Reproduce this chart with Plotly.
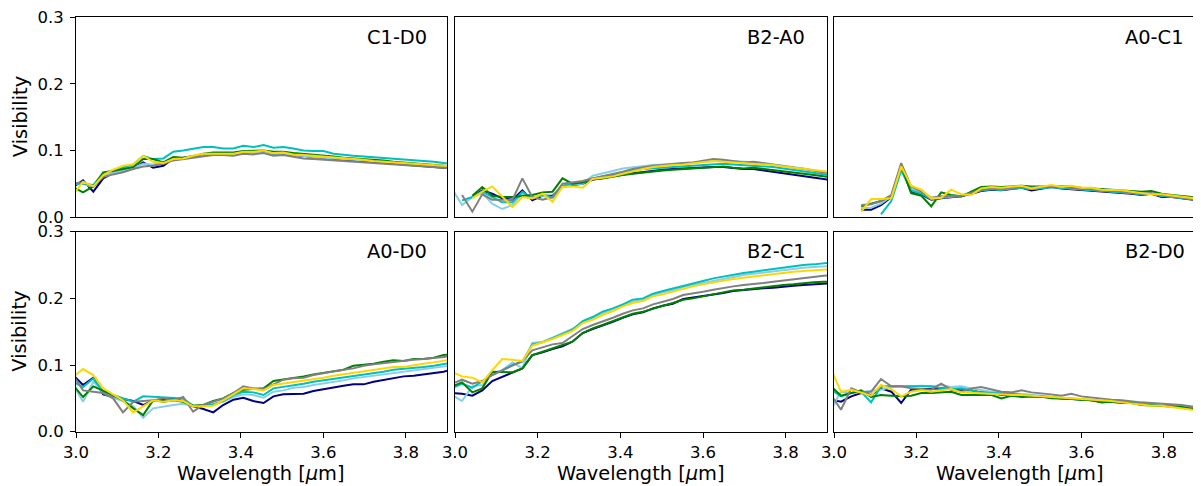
import plotly.graph_objects as go

# ---------------- data ----------------
wavelength = [2.993, 3.017, 3.042, 3.066, 3.090, 3.114, 3.139, 3.163, 3.187, 3.212,
              3.236, 3.260, 3.284, 3.309, 3.333, 3.357, 3.382, 3.406, 3.430, 3.455,
              3.479, 3.503, 3.527, 3.552, 3.576, 3.600, 3.625, 3.649, 3.673, 3.698,
              3.722, 3.746, 3.770, 3.795, 3.819, 3.843, 3.868, 3.892, 3.916]

series_names = ["navy", "skyblue", "c", "green", "gray", "gold"]
series_colors = ["#000080", "#87CEEB", "#00BFBF", "#008000", "#808080", "#FFD700"]

panel_labels = ["C1-D0", "B2-A0", "A0-C1", "A0-D0", "B2-C1", "B2-D0"]

# C1-D0
c1d0_navy = [0.045,0.055,0.038,0.058,0.066,0.069,0.073,0.082,0.074,0.077,0.088,0.089,0.092,0.094,0.095,0.094,0.094,0.097,0.097,0.099,0.095,0.095,0.093,0.091,0.090,0.089,0.087,0.086,0.085,0.084,0.083,0.081,0.080,0.079,0.077,0.076,0.075,0.074,0.074]
c1d0_skyblue = [0.050,0.050,0.045,0.062,0.066,0.070,0.074,0.080,0.079,0.081,0.088,0.089,0.091,0.094,0.095,0.095,0.094,0.097,0.096,0.098,0.095,0.095,0.093,0.091,0.090,0.089,0.088,0.087,0.086,0.085,0.084,0.083,0.082,0.081,0.080,0.079,0.078,0.077,0.076]
c1d0_cyan = [0.050,0.050,0.048,0.066,0.070,0.075,0.079,0.092,0.087,0.088,0.098,0.100,0.102,0.105,0.105,0.103,0.103,0.107,0.105,0.108,0.104,0.105,0.103,0.100,0.099,0.099,0.095,0.093,0.092,0.091,0.090,0.088,0.087,0.086,0.085,0.084,0.083,0.081,0.080]
c1d0_green = [0.045,0.037,0.046,0.067,0.069,0.072,0.075,0.087,0.087,0.082,0.090,0.089,0.091,0.095,0.097,0.097,0.097,0.099,0.100,0.100,0.098,0.098,0.096,0.095,0.094,0.092,0.091,0.089,0.088,0.087,0.087,0.085,0.083,0.082,0.080,0.079,0.078,0.077,0.076]
c1d0_gray = [0.050,0.052,0.046,0.060,0.064,0.067,0.072,0.076,0.077,0.080,0.085,0.087,0.090,0.092,0.093,0.093,0.092,0.095,0.094,0.096,0.092,0.093,0.090,0.088,0.087,0.086,0.085,0.084,0.083,0.082,0.081,0.080,0.079,0.078,0.077,0.076,0.075,0.074,0.073]
c1d0_gold = [0.033,0.053,0.046,0.063,0.071,0.077,0.079,0.092,0.083,0.081,0.087,0.088,0.092,0.095,0.095,0.095,0.095,0.098,0.098,0.100,0.096,0.097,0.094,0.093,0.092,0.090,0.089,0.088,0.087,0.086,0.084,0.083,0.082,0.081,0.080,0.079,0.078,0.077,0.076]

# B2-A0
b2a0_navy = [None,None,0.030,0.040,0.035,0.028,0.026,0.040,0.025,0.032,0.032,0.045,0.048,0.050,0.056,0.058,0.061,0.064,0.066,0.068,0.070,0.071,0.072,0.073,0.074,0.074,0.075,0.075,0.073,0.072,0.072,0.070,0.068,0.066,0.064,0.062,0.060,0.058,0.055]
b2a0_skyblue = [0.042,0.018,0.030,0.036,0.020,0.012,0.018,0.035,0.030,0.032,0.028,0.045,0.049,0.050,0.062,0.065,0.069,0.073,0.075,0.077,0.078,0.079,0.080,0.081,0.082,0.083,0.084,0.085,0.084,0.083,0.083,0.081,0.079,0.077,0.075,0.073,0.070,0.067,0.065]
b2a0_cyan = [None,0.025,0.030,0.038,0.030,0.022,0.022,0.038,0.028,0.033,0.030,0.047,0.050,0.051,0.058,0.061,0.064,0.067,0.070,0.072,0.073,0.075,0.076,0.077,0.078,0.079,0.080,0.080,0.079,0.078,0.078,0.077,0.075,0.073,0.071,0.069,0.067,0.064,0.062]
b2a0_green = [None,None,0.032,0.045,0.032,0.030,0.030,0.032,0.033,0.037,0.038,0.058,0.050,0.052,0.057,0.058,0.061,0.063,0.065,0.067,0.069,0.070,0.071,0.072,0.074,0.075,0.076,0.076,0.074,0.073,0.074,0.072,0.070,0.069,0.067,0.065,0.063,0.061,0.059]
b2a0_gray = [None,0.033,0.008,0.034,0.026,0.026,0.026,0.058,0.030,0.026,0.030,0.050,0.052,0.054,0.058,0.061,0.065,0.068,0.072,0.075,0.077,0.078,0.080,0.081,0.082,0.084,0.087,0.086,0.084,0.082,0.083,0.081,0.079,0.077,0.075,0.073,0.070,0.067,0.065]
b2a0_gold = [None,None,0.028,0.038,0.046,0.030,0.015,0.030,0.028,0.035,0.023,0.045,0.046,0.044,0.057,0.059,0.061,0.065,0.069,0.072,0.075,0.077,0.078,0.079,0.081,0.082,0.084,0.083,0.082,0.081,0.081,0.079,0.078,0.076,0.074,0.073,0.071,0.068,0.067]

# A0-C1
a0c1_navy = [None,None,None,0.011,0.011,0.018,0.030,0.075,0.038,0.034,0.026,0.028,0.030,0.031,0.035,0.039,0.041,0.040,0.042,0.044,0.040,0.043,0.045,0.043,0.042,0.041,0.040,0.039,0.038,0.036,0.035,0.033,0.035,0.030,0.030,0.028,0.026,0.024,0.023]
a0c1_skyblue = [None,None,None,0.013,0.014,0.020,0.031,0.077,0.043,0.036,0.027,0.029,0.030,0.032,0.036,0.040,0.042,0.041,0.043,0.044,0.042,0.044,0.045,0.044,0.043,0.042,0.041,0.040,0.039,0.037,0.036,0.034,0.035,0.032,0.031,0.029,0.027,0.025,0.024]
a0c1_cyan = [None,None,None,None,None,0.004,0.024,0.070,0.040,0.035,0.028,0.030,0.031,0.032,0.036,0.040,0.042,0.041,0.043,0.044,0.042,0.044,0.045,0.044,0.043,0.042,0.041,0.040,0.039,0.037,0.036,0.034,0.035,0.032,0.031,0.029,0.027,0.025,0.024]
a0c1_green = [None,None,None,0.016,0.020,0.024,0.032,0.078,0.036,0.032,0.016,0.037,0.033,0.031,0.038,0.045,0.046,0.045,0.046,0.047,0.046,0.046,0.047,0.046,0.046,0.044,0.043,0.042,0.041,0.040,0.038,0.038,0.039,0.035,0.033,0.032,0.030,0.028,0.026]
a0c1_gray = [None,None,None,0.018,0.019,0.024,0.033,0.081,0.046,0.038,0.029,0.031,0.031,0.032,0.036,0.041,0.043,0.043,0.044,0.045,0.044,0.045,0.046,0.045,0.044,0.043,0.042,0.041,0.040,0.038,0.037,0.035,0.036,0.033,0.031,0.030,0.028,0.026,0.025]
a0c1_gold = [None,None,None,0.008,0.027,0.027,0.028,0.076,0.047,0.041,0.028,0.029,0.041,0.034,0.033,0.043,0.045,0.044,0.045,0.047,0.043,0.045,0.048,0.045,0.047,0.044,0.044,0.041,0.041,0.040,0.038,0.036,0.034,0.034,0.032,0.031,0.029,0.027,0.025]

# A0-D0
a0d0_navy = [0.085,0.070,0.081,0.056,0.052,0.049,0.046,0.040,0.047,0.048,0.049,0.046,0.038,0.034,0.029,0.040,0.048,0.051,0.046,0.043,0.053,0.056,0.057,0.057,0.061,0.064,0.067,0.069,0.071,0.071,0.075,0.078,0.081,0.083,0.084,0.086,0.087,0.090,0.094]
a0d0_skyblue = [0.070,0.045,0.075,0.058,0.051,0.046,0.038,0.021,0.035,0.038,0.040,0.042,0.038,0.038,0.042,0.045,0.052,0.056,0.055,0.051,0.060,0.062,0.066,0.067,0.070,0.072,0.075,0.077,0.080,0.082,0.084,0.086,0.088,0.090,0.092,0.094,0.096,0.098,0.100]
a0d0_cyan = [0.075,0.067,0.080,0.060,0.055,0.050,0.045,0.053,0.052,0.051,0.050,0.050,0.039,0.039,0.041,0.046,0.055,0.060,0.059,0.055,0.065,0.067,0.070,0.072,0.075,0.077,0.080,0.082,0.084,0.086,0.088,0.090,0.093,0.094,0.095,0.097,0.099,0.101,0.104]
a0d0_green = [0.070,0.052,0.068,0.062,0.055,0.047,0.035,0.025,0.047,0.045,0.047,0.045,0.039,0.040,0.046,0.050,0.058,0.063,0.064,0.065,0.076,0.078,0.080,0.083,0.086,0.088,0.090,0.093,0.099,0.100,0.102,0.105,0.107,0.106,0.109,0.109,0.111,0.115,0.116]
a0d0_gray = [0.085,0.062,0.060,0.058,0.050,0.029,0.045,0.046,0.047,0.050,0.047,0.052,0.030,0.040,0.045,0.050,0.058,0.068,0.065,0.064,0.071,0.078,0.080,0.081,0.085,0.088,0.091,0.093,0.095,0.099,0.101,0.103,0.105,0.107,0.108,0.109,0.110,0.112,0.115]
a0d0_gold = [0.082,0.094,0.085,0.065,0.056,0.047,0.029,0.038,0.047,0.045,0.047,0.046,0.038,0.038,0.039,0.047,0.056,0.065,0.064,0.062,0.070,0.072,0.075,0.076,0.079,0.081,0.084,0.086,0.088,0.090,0.092,0.094,0.097,0.097,0.100,0.102,0.104,0.106,0.109]

# B2-C1
b2c1_navy = [0.058,0.057,0.054,0.062,0.076,0.082,0.089,0.095,0.115,0.119,0.124,0.128,0.135,0.148,0.154,0.159,0.165,0.171,0.176,0.179,0.185,0.189,0.192,0.199,0.201,0.204,0.206,0.208,0.211,0.212,0.214,0.215,0.216,0.218,0.219,0.220,0.221,0.222,0.223]
b2c1_skyblue = [0.055,0.046,0.068,0.070,0.088,0.092,0.104,0.095,0.133,0.135,0.141,0.147,0.154,0.164,0.170,0.177,0.182,0.189,0.195,0.198,0.205,0.209,0.212,0.217,0.220,0.223,0.227,0.230,0.233,0.235,0.237,0.239,0.241,0.243,0.244,0.246,0.247,0.248,0.249]
b2c1_cyan = [0.065,0.072,0.066,0.075,0.085,0.092,0.100,0.105,0.131,0.134,0.140,0.146,0.153,0.166,0.172,0.180,0.185,0.191,0.198,0.200,0.207,0.211,0.215,0.219,0.222,0.226,0.230,0.233,0.236,0.238,0.240,0.242,0.245,0.247,0.249,0.250,0.251,0.252,0.254]
b2c1_green = [0.068,0.074,0.059,0.065,0.090,0.090,0.089,0.095,0.115,0.120,0.125,0.130,0.135,0.148,0.155,0.160,0.166,0.172,0.177,0.180,0.185,0.189,0.193,0.198,0.200,0.203,0.206,0.209,0.212,0.213,0.215,0.217,0.218,0.220,0.221,0.223,0.224,0.225,0.225]
b2c1_gray = [0.072,0.078,0.072,0.076,0.085,0.092,0.100,0.106,0.122,0.126,0.131,0.133,0.143,0.154,0.160,0.165,0.171,0.177,0.182,0.185,0.191,0.195,0.199,0.205,0.207,0.210,0.213,0.216,0.218,0.220,0.221,0.223,0.225,0.227,0.229,0.230,0.232,0.234,0.235]
b2c1_gold = [0.090,0.083,0.081,0.074,0.092,0.109,0.108,0.106,0.129,0.134,0.139,0.145,0.151,0.163,0.168,0.175,0.181,0.188,0.193,0.196,0.203,0.206,0.210,0.215,0.218,0.221,0.224,0.227,0.229,0.231,0.233,0.235,0.237,0.239,0.240,0.241,0.242,0.243,0.244]

# B2-D0
b2d0_navy = [0.048,0.045,0.053,0.058,0.055,0.065,0.060,0.043,0.063,0.064,0.065,0.065,0.064,0.062,0.062,0.059,0.058,0.055,0.055,0.054,0.053,0.052,0.052,0.050,0.049,0.048,0.047,0.045,0.045,0.044,0.043,0.042,0.040,0.039,0.039,0.038,0.036,0.035,0.034]
b2d0_skyblue = [0.033,0.060,0.058,0.060,0.062,0.063,0.067,0.068,0.068,0.069,0.068,0.070,0.067,0.068,0.065,0.062,0.060,0.059,0.058,0.056,0.055,0.054,0.053,0.051,0.050,0.049,0.048,0.047,0.046,0.045,0.044,0.044,0.042,0.041,0.040,0.039,0.037,0.036,0.035]
b2d0_cyan = [0.063,0.053,0.058,0.060,0.044,0.068,0.068,0.068,0.067,0.068,0.068,0.065,0.064,0.065,0.062,0.059,0.058,0.058,0.057,0.055,0.054,0.053,0.052,0.050,0.049,0.048,0.047,0.045,0.045,0.044,0.043,0.043,0.040,0.039,0.039,0.038,0.036,0.035,0.034]
b2d0_green = [0.068,0.054,0.058,0.062,0.052,0.055,0.054,0.053,0.054,0.058,0.058,0.059,0.060,0.055,0.055,0.055,0.055,0.050,0.054,0.052,0.052,0.053,0.050,0.050,0.049,0.048,0.047,0.044,0.045,0.043,0.043,0.040,0.039,0.038,0.038,0.037,0.034,0.033,0.032]
b2d0_gray = [0.055,0.033,0.065,0.059,0.060,0.079,0.068,0.068,0.065,0.064,0.063,0.072,0.063,0.060,0.065,0.067,0.063,0.060,0.059,0.062,0.059,0.058,0.056,0.054,0.057,0.053,0.051,0.050,0.048,0.047,0.045,0.044,0.043,0.042,0.042,0.040,0.038,0.037,0.035]
b2d0_gold = [0.093,0.060,0.063,0.058,0.054,0.070,0.064,0.053,0.060,0.062,0.060,0.062,0.064,0.059,0.058,0.057,0.057,0.056,0.055,0.055,0.054,0.054,0.052,0.051,0.050,0.050,0.048,0.047,0.046,0.044,0.042,0.041,0.039,0.039,0.037,0.036,0.033,0.030,0.030]

x_ticks = [3.0, 3.2, 3.4, 3.6, 3.8]
y_ticks = [0.0, 0.1, 0.2, 0.3]

panel_series = [
    [c1d0_navy, c1d0_skyblue, c1d0_cyan, c1d0_green, c1d0_gray, c1d0_gold],
    [b2a0_navy, b2a0_skyblue, b2a0_cyan, b2a0_green, b2a0_gray, b2a0_gold],
    [a0c1_navy, a0c1_skyblue, a0c1_cyan, a0c1_green, a0c1_gray, a0c1_gold],
    [a0d0_navy, a0d0_skyblue, a0d0_cyan, a0d0_green, a0d0_gray, a0d0_gold],
    [b2c1_navy, b2c1_skyblue, b2c1_cyan, b2c1_green, b2c1_gray, b2c1_gold],
    [b2d0_navy, b2d0_skyblue, b2d0_cyan, b2d0_green, b2d0_gray, b2d0_gold],
]

# ---------------- layout geometry ----------------
# The page body has an 8 px margin, so the figure is sized to fill the
# remaining part of the 1201x486 window; positions below are window pixels.
OFF = 8
W, H = 1201 - OFF, 486 - OFF
FONT = "DejaVu Sans"
TICK_SIZE = 16.5
LABEL_SIZE = 19.4
col_px = [(76, 447), (455, 827), (834, 1201)]
row_px = [(17.3, 217.0), (231.7, 431.7)]
px_per_um = (447 - 76) / 0.9
x_ranges = [[3.0, 3.9], [3.0, 3.9], [3.0, 3.0 + (1201 - 834) / px_per_um]]


def fx(px):
    return (px - OFF) / W


def fy(py):
    return 1 - (py - OFF) / H


fig = go.Figure()
layout_axes = {}
annotations = []

for p in range(6):
    r, c = divmod(p, 3)
    idx = p + 1
    xa = "x" if idx == 1 else f"x{idx}"
    ya = "y" if idx == 1 else f"y{idx}"
    for s, vals in enumerate(panel_series[p]):
        fig.add_trace(go.Scatter(
            x=wavelength, y=vals, mode="lines",
            line=dict(color=series_colors[s], width=2),
            name=series_names[s], showlegend=False,
            xaxis=xa, yaxis=ya, hoverinfo="skip",
        ))
    x0, x1 = col_px[c]
    y0, y1 = row_px[r]
    bottom = (r == 1)
    left = (c == 0)
    layout_axes["xaxis" if idx == 1 else f"xaxis{idx}"] = dict(
        domain=[fx(x0), min(fx(x1), 1.0)], anchor=ya, range=x_ranges[c], automargin=False,
        showgrid=False, zeroline=False, showline=True, linecolor="black",
        linewidth=1, mirror=True,
        ticks="outside" if bottom else "", ticklen=5, tickwidth=1, tickcolor="black",
        tickvals=x_ticks if bottom else [], tickformat=".1f",
        showticklabels=bottom,
        tickfont=dict(family=FONT, size=TICK_SIZE, color="black"),
    )
    layout_axes["yaxis" if idx == 1 else f"yaxis{idx}"] = dict(
        domain=[fy(y1), fy(y0)], anchor=xa, range=[0, 0.3], automargin=False,
        showgrid=False, zeroline=False, showline=True, linecolor="black",
        linewidth=1, mirror=(c != 2),
        ticks="outside" if left else "", ticklen=5, tickwidth=1, tickcolor="black",
        tickvals=y_ticks if left else [], tickformat=".1f",
        showticklabels=left, ticklabelstandoff=3,
        tickfont=dict(family=FONT, size=TICK_SIZE, color="black"),
    )
    annotations.append(dict(
        text=panel_labels[p], xref=xa, yref=ya, x=3.0 + 0.78 * 0.9, y=0.27,
        xanchor="left", yanchor="middle", showarrow=False,
        font=dict(family=FONT, size=LABEL_SIZE, color="black"),
    ))

for r in range(2):
    yc = (row_px[r][0] + row_px[r][1]) / 2
    annotations.append(dict(
        text="Visibility", xref="paper", yref="paper", x=fx(20), y=fy(yc),
        xanchor="center", yanchor="middle", textangle=-90, showarrow=False,
        font=dict(family=FONT, size=LABEL_SIZE, color="black"),
    ))

for c in range(3):
    xc = col_px[c][0] + (447 - 76) / 2
    annotations.append(dict(
        text="Wavelength [<i>μ</i>m]", xref="paper", yref="paper", x=fx(xc), y=fy(473),
        xanchor="center", yanchor="middle", showarrow=False,
        font=dict(family=FONT, size=LABEL_SIZE, color="black"),
    ))

fig.update_layout(
    width=W, height=H, margin=dict(l=0, r=0, t=0, b=0, autoexpand=False),
    paper_bgcolor="white", plot_bgcolor="white",
    showlegend=False, annotations=annotations,
    font=dict(family=FONT, color="black"),
    **layout_axes,
)

fig.write_html("out.html")
